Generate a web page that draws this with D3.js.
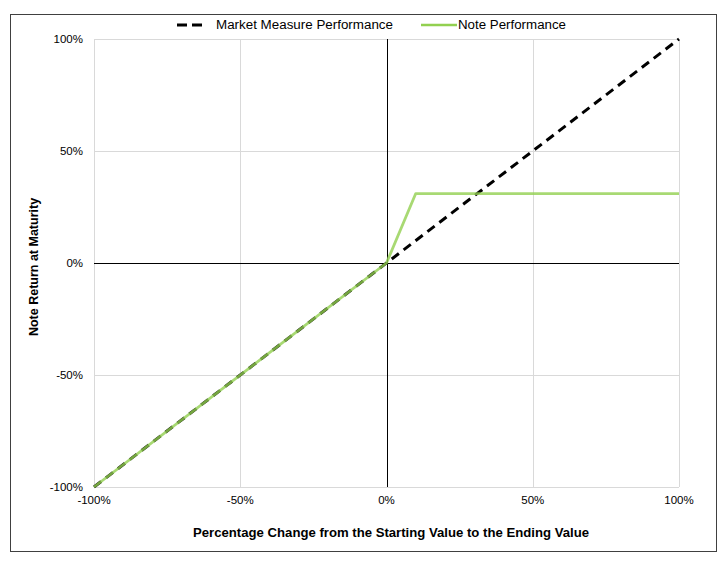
<!DOCTYPE html>
<html><head><meta charset="utf-8">
<script src="https://cdn.jsdelivr.net/npm/d3@7/dist/d3.min.js"></script>
<style>body{margin:0;background:#fff}svg{display:block;font-family:"Liberation Sans",Arial,sans-serif}</style>
</head><body><svg id="c" width="726" height="566"></svg>
<script>
const xTicks = [-100, -50, 0, 50, 100];
const yTicks = [-100, -50, 0, 50, 100];
const marketX = [-100, 100];
const marketY = [-100, 100];
const noteX = [-100, 0, 10, 100];
const noteY = [-100, 0, 31, 31];
const seriesNames = ["Market Measure Performance", "Note Performance"];
const xTitle = "Percentage Change from the Starting Value to the Ending Value";
const yTitle = "Note Return at Maturity";

const svg = d3.select("#c");
const L = 94, R = 679, T = 39, B = 487;
const x = d3.scaleLinear().domain([-100, 100]).range([L, R]);
const y = d3.scaleLinear().domain([-100, 100]).range([B, T]);

svg.append("rect").attr("x", 10.5).attr("y", 14.5).attr("width", 706).attr("height", 537)
  .attr("fill", "#fff").attr("stroke", "#404040").attr("stroke-width", 1);

// gridlines
const g = svg.append("g");
g.selectAll(".vx").data(xTicks.filter(d => d !== 0)).enter().append("line")
  .attr("x1", d => Math.round(x(d)) + 0.5).attr("x2", d => Math.round(x(d)) + 0.5)
  .attr("y1", T).attr("y2", B).attr("stroke", "#d9d9d9");
g.selectAll(".hy").data(yTicks.filter(d => d !== 0)).enter().append("line")
  .attr("y1", d => Math.round(y(d)) + 0.5).attr("y2", d => Math.round(y(d)) + 0.5)
  .attr("x1", L).attr("x2", R).attr("stroke", "#d9d9d9");

// zero axes
svg.append("line").attr("x1", L).attr("x2", R).attr("y1", Math.round(y(0)) + 0.5).attr("y2", Math.round(y(0)) + 0.5).attr("stroke", "#000");
svg.append("line").attr("x1", Math.round(x(0)) + 0.5).attr("x2", Math.round(x(0)) + 0.5).attr("y1", T).attr("y2", B).attr("stroke", "#000");

// tick labels
svg.selectAll(".yl").data(yTicks).enter().append("text")
  .attr("x", 83).attr("y", d => y(d) + 4).attr("text-anchor", "end")
  .attr("font-size", 11.5).attr("fill", "#000").text(d => d + "%");
svg.selectAll(".xl").data(xTicks).enter().append("text")
  .attr("x", d => x(d)).attr("y", B + 17).attr("text-anchor", "middle")
  .attr("font-size", 11.5).attr("fill", "#000").text(d => d + "%");

// titles
svg.append("text").attr("x", 391).attr("y", 537).attr("text-anchor", "middle")
  .attr("font-size", 12.5).attr("font-weight", "bold")
  .attr("textLength", 396).attr("lengthAdjust", "spacingAndGlyphs").text(xTitle);
svg.append("text").attr("transform", `translate(38,267) rotate(-90)`).attr("text-anchor", "middle")
  .attr("font-size", 12.5).attr("font-weight", "bold").text(yTitle);

const line = d3.line().x(d => x(d[0])).y(d => y(d[1]));
const noteData = noteX.map((v, i) => [v, noteY[i]]);
const mktData = marketX.map((v, i) => [v, marketY[i]]);
svg.append("path").datum(mktData).attr("d", line).attr("fill", "none")
  .attr("stroke", "#000").attr("stroke-width", 3).attr("stroke-dasharray", "9,6");
svg.append("path").datum(noteData).attr("d", line).attr("fill", "none")
  .attr("stroke", "#92d050").attr("stroke-opacity", 0.8).attr("stroke-width", 2.8).attr("stroke-linejoin", "round");

// legend
svg.append("line").attr("x1", 177).attr("x2", 206).attr("y1", 25).attr("y2", 25)
  .attr("stroke", "#000").attr("stroke-width", 3).attr("stroke-dasharray", "10,5");
svg.append("text").attr("x", 216).attr("y", 29).attr("font-size", 12.5)
  .attr("textLength", 177).attr("lengthAdjust", "spacingAndGlyphs").text(seriesNames[0]);
svg.append("line").attr("x1", 421).attr("x2", 457).attr("y1", 25).attr("y2", 25)
  .attr("stroke", "#92d050").attr("stroke-width", 2.5);
svg.append("text").attr("x", 458).attr("y", 29).attr("font-size", 12.5)
  .attr("textLength", 108).attr("lengthAdjust", "spacingAndGlyphs").text(seriesNames[1]);
</script></body></html>
